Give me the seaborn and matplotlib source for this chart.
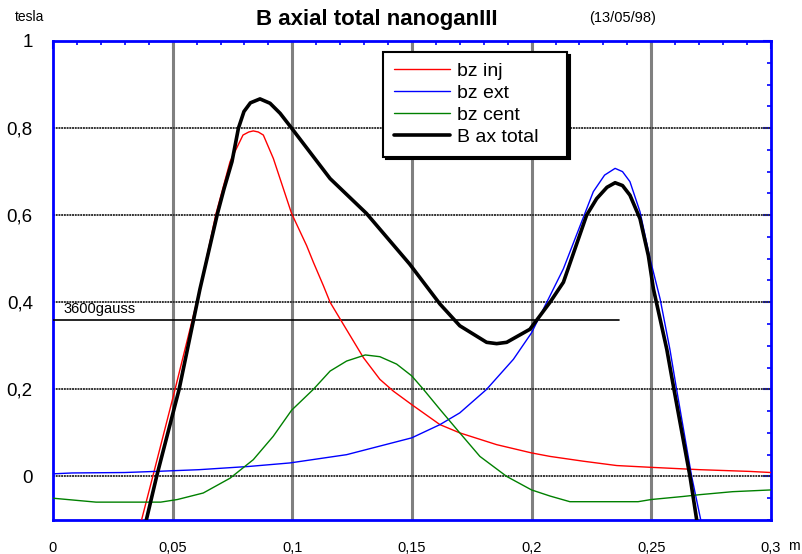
import numpy as np
import pandas as pd
import matplotlib
matplotlib.use("Agg")
import matplotlib.pyplot as plt
import seaborn as sns
from matplotlib.ticker import MultipleLocator, FuncFormatter

# curves (x in m, B in tesla)
red_x = [0.037, 0.0417, 0.051, 0.0614, 0.0681, 0.074, 0.0794, 0.0818, 0.0837, 0.0858, 0.0879,
         0.0921, 0.0997, 0.106, 0.1088, 0.113, 0.1158, 0.120, 0.1297, 0.1366, 0.1422, 0.1499,
         0.1617, 0.170, 0.1854, 0.200, 0.2077, 0.2216, 0.2356, 0.2496, 0.2704, 0.2913, 0.3]
red_y = [-0.1, 0.0, 0.2, 0.43, 0.603, 0.723, 0.784, 0.791, 0.7935, 0.791, 0.784,
         0.73, 0.604, 0.53, 0.492, 0.438, 0.40, 0.3615, 0.273, 0.223, 0.196, 0.165,
         0.119, 0.10, 0.073, 0.054, 0.046, 0.035, 0.025, 0.021, 0.0155, 0.0115, 0.009]

blue_x = [0.0, 0.008, 0.03, 0.045, 0.061, 0.082, 0.099, 0.1227, 0.1499, 0.1617, 0.170,
          0.1812, 0.1924, 0.200, 0.2077, 0.2133, 0.2258, 0.2305, 0.2349, 0.238, 0.2411,
          0.2453, 0.2495, 0.2537, 0.2578, 0.2606, 0.2669, 0.2707]
blue_y = [0.006, 0.008, 0.009, 0.012, 0.0155, 0.023, 0.031, 0.05, 0.0886, 0.119, 0.146,
          0.20, 0.269, 0.33, 0.415, 0.477, 0.654, 0.692, 0.7075, 0.700, 0.677,
          0.608, 0.50, 0.408, 0.292, 0.2, 0.0, -0.1]

green_x = [0.0, 0.018, 0.045, 0.052, 0.0628, 0.074, 0.0837, 0.092, 0.0997, 0.1088, 0.1158,
           0.1227, 0.1305, 0.1366, 0.1436, 0.1499, 0.1548, 0.1617, 0.170, 0.1784, 0.1896,
           0.200, 0.2077, 0.216, 0.2445, 0.250, 0.2633, 0.270, 0.284, 0.300]
green_y = [-0.05, -0.059, -0.059, -0.053, -0.038, -0.004, 0.0385, 0.092, 0.152, 0.20, 0.242,
           0.265, 0.279, 0.275, 0.258, 0.231, 0.20, 0.154, 0.10, 0.046, 0.0,
           -0.031, -0.045, -0.058, -0.058, -0.053, -0.046, -0.042, -0.035, -0.031]

total_x = [0.039, 0.0433, 0.0527, 0.0614, 0.0687, 0.0715, 0.0748, 0.0775, 0.0798, 0.0825,
           0.0865, 0.0907, 0.0949, 0.0997, 0.1158, 0.131, 0.149, 0.1617, 0.170, 0.1812, 0.1854,
           0.1896, 0.1993, 0.2035, 0.2077, 0.2133, 0.223, 0.2272, 0.2315, 0.2349, 0.238, 0.2411,
           0.2453, 0.2488, 0.2509, 0.2565, 0.2595, 0.2662, 0.269]
total_y = [-0.1, 0.0, 0.2, 0.43, 0.603, 0.661, 0.723, 0.80, 0.838, 0.858,
           0.867, 0.857, 0.834, 0.80, 0.684, 0.604, 0.488, 0.396, 0.346, 0.308, 0.305,
           0.308, 0.338, 0.369, 0.40, 0.446, 0.60, 0.638, 0.664, 0.6745, 0.668, 0.646,
           0.592, 0.507, 0.431, 0.292, 0.2, 0.0, -0.1]

series_names = ["bz inj", "bz ext", "bz cent", "B ax total"]
series_colors = ["#ff0000", "#0000ff", "#008000", "#000000"]
series_widths = [1.0, 1.0, 1.0, 2.6]

gauss_level = 0.36
gauss_end = 0.2365

sns.set_style("white")
plt.rcParams["font.family"] = ["Liberation Sans", "DejaVu Sans"]
plt.rcParams["text.color"] = "black"

fig = plt.figure(figsize=(8.03, 5.54), dpi=100)
ax = fig.add_axes([0.066, 0.0614, 0.894, 0.8646])

data = [(red_x, red_y), (blue_x, blue_y), (green_x, green_y), (total_x, total_y)]
for (xs, ys), name, col, lw in zip(data, series_names, series_colors, series_widths):
    sns.lineplot(x=xs, y=ys, ax=ax, color=col, linewidth=lw, label=name,
                 sort=False, estimator=None, zorder=4)

ax.plot([0, gauss_end], [gauss_level, gauss_level], color="black", lw=1.2, zorder=3)
ax.text(0.0042, gauss_level + 0.008, "3600gauss", fontsize=10.5, va="bottom", ha="left",
        color="black")

ax.set_xlim(0, 0.3)
ax.set_ylim(-0.1, 1)
ax.xaxis.set_major_locator(MultipleLocator(0.05))
ax.xaxis.set_minor_locator(MultipleLocator(0.01))
ax.yaxis.set_major_locator(MultipleLocator(0.2))
ax.yaxis.set_minor_locator(MultipleLocator(0.05))

fmt = FuncFormatter(lambda v, p: ("%g" % round(v, 3)).replace(".", ","))
ax.xaxis.set_major_formatter(fmt)
ax.yaxis.set_major_formatter(fmt)

ax.grid(False)
for xv in [0.05, 0.1, 0.15, 0.2, 0.25]:
    ax.axvline(xv, color="#808080", lw=2.2, zorder=1)
for yv in [0.0, 0.2, 0.4, 0.6, 0.8]:
    ax.axhline(yv, color="#333333", lw=1.4, ls=(0, (1, 0.4)), zorder=1)

for s in ax.spines.values():
    s.set_color("#0000ff")
    s.set_linewidth(2)
ax.tick_params(which="both", direction="in", colors="#0000ff", top=True, right=True,
               labelcolor="black")
ax.tick_params(which="major", length=6, width=1.5)
ax.tick_params(which="minor", length=3, width=1.2)
ax.tick_params(axis="x", which="major", labelsize=10.5, pad=15)
ax.tick_params(axis="y", which="major", labelsize=13.5, pad=14.5)
ax.set_xlabel("")
ax.set_ylabel("")

leg_w = (567 - 383) / 803
leg = ax.legend(loc="upper left", bbox_to_anchor=(383 / 803, 1 - 52 / 554, leg_w, 0.0),
                bbox_transform=fig.transFigure, mode="expand", fontsize=14, frameon=True,
                fancybox=False, shadow={"color": "black", "alpha": 1},
                borderpad=0.55, labelspacing=0.22, handlelength=2.9, handletextpad=0.35,
                borderaxespad=0)
leg.get_frame().set_edgecolor("black")
leg.get_frame().set_linewidth(1.5)
leg.get_frame().set_alpha(1)
for t in leg.get_texts():
    t.set_color("black")

fig.text(377 / 803, 0.964, "B axial total nanoganIII", fontsize=16, fontweight="bold",
         ha="center", va="center", color="black")
fig.text(589 / 803, 0.968, "(13/05/98)", fontsize=10.5, ha="left", va="center", color="black")
fig.text(15 / 803, 0.969, "tesla", fontsize=10, ha="left", va="center", color="black")
fig.text(788 / 803, 1 - 546 / 554, "m", fontsize=10, ha="left", va="center", color="black")

fig.savefig("out.png", dpi=100)
